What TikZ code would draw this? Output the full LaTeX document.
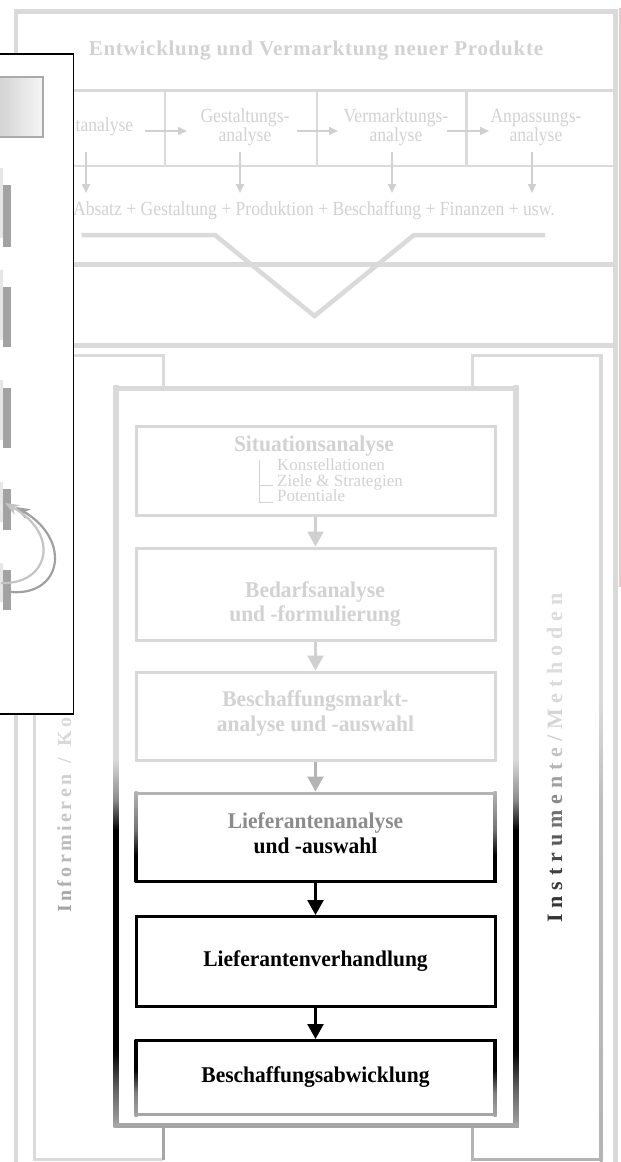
\documentclass[tikz,border=0pt]{standalone}
\usepackage{fontspec}
\setmainfont{Liberation Serif}
\newfontfamily\condfont[FakeStretch=0.88]{Liberation Serif}
\newfontfamily\boldcond[FakeStretch=0.955]{Liberation Serif}
\newfontfamily\titlefont[LetterSpace=3.5]{Liberation Serif}
\usetikzlibrary{arrows.meta}
\definecolor{frgray}{HTML}{DADADA}
\definecolor{txtgray}{HTML}{D2D2D2}
\definecolor{argray}{HTML}{D0D0D0}
\definecolor{boxgray}{HTML}{D8D8D8}
\definecolor{midgray}{HTML}{B4B4B4}
\definecolor{botgray}{HTML}{A6A6A6}
\definecolor{bargray}{HTML}{A2A2A2}
\definecolor{stripgray}{HTML}{E6E6E6}
\definecolor{pinkline}{HTML}{F2C6C6}
\definecolor{arcA}{HTML}{C4C4C4}
\definecolor{arcB}{HTML}{A0A0A0}
\definecolor{liefgray}{HTML}{8C8C8C}
\definecolor{boxedge}{HTML}{AAAAAA}
\definecolor{boxfillL}{HTML}{CCCCCC}
\definecolor{boxfillR}{HTML}{F6F6F6}
\newdimen\lsp
\newcommand{\rl}[2]{\textcolor[HTML]{#1}{#2}\kern\lsp}
\newcommand{\rlast}[2]{\textcolor[HTML]{#1}{#2}}
\pgfdeclareverticalshading{innerside}{100bp}{color(0bp)=(botgray); color(25bp)=(botgray); color(27.5bp)=(black!60); color(30.2bp)=(black); color(45.05bp)=(black); color(47.1bp)=(black!45); color(49.8bp)=(frgray); color(75bp)=(frgray); color(100bp)=(frgray)}
\pgfdeclareverticalshading{liefside}{100bp}{color(0bp)=(black); color(40bp)=(black); color(54bp)=(black!55); color(75bp)=(midgray); color(100bp)=(midgray)}
\pgfdeclareverticalshading{abwside}{100bp}{color(0bp)=(botgray); color(25bp)=(botgray); color(40bp)=(black!50); color(55bp)=(black); color(100bp)=(black)}
\pgfdeclareverticalshading{brkside}{100bp}{color(0bp)=(midgray); color(25bp)=(midgray); color(47.4bp)=(black!25); color(53.6bp)=(frgray); color(100bp)=(frgray)}
\begin{document}
\begin{tikzpicture}[x=1pt,y=-1pt,
  frame/.style={draw=frgray, line width=4.5pt},
  thinframe/.style={draw=frgray, line width=2.5pt},
  bracketline/.style={draw=frgray, line width=3pt},
  rowtxt/.style={inner sep=0pt, text=txtgray, font=\condfont\fontsize{20}{19}\selectfont},
  listtxt/.style={inner sep=0pt, text=txtgray, font=\fontsize{17}{16}\selectfont, anchor=base west},
  titletxt/.style={inner sep=0pt, text=txtgray, font=\titlefont\fontsize{21}{24}\selectfont\bfseries},
  boldtxt/.style={inner sep=0pt, font=\boldcond\fontsize{22.5}{25}\selectfont\bfseries, anchor=base},
  sidetxt/.style={rotate=90, anchor=base west, inner sep=0pt},
  procbox/.style={rectangle, inner sep=0pt, outer sep=0pt, minimum width=359pt, line width=3pt},
  smallarr/.style={draw=argray, line width=2pt, -{Triangle[length=9pt,width=8pt]}},
  bigarr/.style={line width=2.5pt, -{Triangle[length=15pt,width=16pt]}, shorten >=1.5pt, shorten <=1.5pt},
  arcarrA/.style={draw=arcA, line width=2.2pt, -{Stealth[length=14pt,width=11pt]}},
  arcarrB/.style={draw=arcB, line width=2.2pt, -{Stealth[length=14pt,width=11pt]}},
]
\path[use as bounding box] (0,0) rectangle (621,1162);
\clip (0,0) rectangle (621,1162);
\fill[white] (0,0) rectangle (621,1162);

% ---------- top frame ----------
\draw[frame] (16,1175) -- (16,11.5) -- (615.5,11.5) -- (615.5,1175);
\draw[pinkline, line width=1.2pt] (620,8) -- (620,587);
\draw[thinframe] (16,90.5) -- (615.5,90.5);
\draw[thinframe] (16,166) -- (615.5,166);
\foreach \xx in {165.2,316.9,466.6} \draw[thinframe] (\xx,90.5) -- (\xx,166);
\draw[frame] (16,264.5) -- (615.5,264.5);
\draw[frame, line join=miter] (81.6,235) -- (215,235) -- (314.5,316) -- (414,235) -- (545,235);

\node[titletxt, anchor=base] (title) at (316,55) {Entwicklung und Vermarktung neuer Produkte};
\node[rowtxt, anchor=base east] (t0) at (133.5,131.5) {tanalyse};
\node[rowtxt, anchor=base] (gest1) at (245,122.5) {Gestaltungs-};
\node[rowtxt, anchor=base] (gest2) at (245,141.5) {analyse};
\node[rowtxt, anchor=base] (verm1) at (396,122.5) {Vermarktungs-};
\node[rowtxt, anchor=base] (verm2) at (396,141.5) {analyse};
\node[rowtxt, anchor=base] (anp1) at (536,122.5) {Anpassungs-};
\node[rowtxt, anchor=base] (anp2) at (536,141.5) {analyse};
\node[rowtxt, anchor=base east] (sum) at (555,215) {Absatz + Gestaltung + Produktion + Beschaffung + Finanzen + usw.};

\foreach \n/\xa/\xb in {1/145/187, 2/297/338, 3/447/489}{
  \coordinate (ra\n s) at (\xa,131);
  \coordinate (ra\n e) at (\xb,131);
  \draw[smallarr] (ra\n s) -- (ra\n e);
}
\foreach \n/\xx in {1/86, 2/240, 3/392, 4/532}{
  \coordinate (da\n s) at (\xx,152);
  \coordinate (da\n e) at (\xx,193);
  \draw[smallarr] (da\n s) -- (da\n e);
}

% ---------- lower frame ----------
\draw[frame] (16,345.5) -- (615.5,345.5);
\draw[bracketline] (163.2,388) -- (163.2,355.5) -- (34,355.5) -- (34,1159.5) -- (163.2,1159.5);
\draw[bracketline, draw=botgray] (163.2,1159.5) -- (163.2,1125);
\draw[bracketline] (472.5,388) -- (472.5,355.5) -- (601,355.5);
\shade[shading=brkside] (599.5,354) rectangle (602.5,1161);
\draw[bracketline, draw=midgray] (601,1159.5) -- (472.5,1159.5) -- (472.5,1125);

% inner container
\fill[frgray] (113.5,385.5) rectangle (518.5,390.5);
\shade[shading=innerside] (113.5,385.5) rectangle (118.5,1127.5);
\shade[shading=innerside] (513.5,385.5) rectangle (518.5,1127.5);
\fill[botgray] (113.5,1122.5) rectangle (518.5,1127.5);

% process boxes
\node[procbox, draw=boxgray, minimum height=89pt] (b1) at (315.5,470.5) {};
\node[procbox, draw=boxgray, minimum height=92pt] (b2) at (315.5,594) {};
\node[procbox, draw=boxgray, minimum height=88pt] (b3) at (315.5,716) {};
\node[procbox, minimum height=88pt] (b4) at (315.5,837) {};
\node[procbox, draw=black, minimum height=89.5pt] (b5) at (315.5,961.25) {};
\node[procbox, minimum height=74pt] (b6) at (315.5,1077.5) {};

\draw[line width=3pt, midgray] (134.5,793) -- (496.5,793);
\draw[line width=3pt, black] (134.5,881) -- (496.5,881);
\shade[shading=liefside] (134.5,791.5) rectangle (137.5,882.5);
\shade[shading=liefside] (493.5,791.5) rectangle (496.5,882.5);

\draw[line width=3pt, black] (134.5,1040.5) -- (496.5,1040.5);
\draw[line width=3pt, botgray] (134.5,1114.5) -- (496.5,1114.5);
\shade[shading=abwside] (134.5,1039) rectangle (137.5,1116);
\shade[shading=abwside] (493.5,1039) rectangle (496.5,1116);

% texts
\node[boldtxt, text=txtgray] (sit) at (314,451) {Situationsanalyse};
\draw[txtgray, line width=1pt] (259,460) -- (259,502) -- (273,502);
\draw[txtgray, line width=1pt] (259,485) -- (273,485);
\node[listtxt] (l1) at (277,470) {Konstellationen};
\node[listtxt] (l2) at (277,486.5) {Ziele \& Strategien};
\node[listtxt] (l3) at (277,501.5) {Potentiale};
\node[boldtxt, text=txtgray] (bed1) at (315,597.5) {Bedarfsanalyse};
\node[boldtxt, text=txtgray] (bed2) at (315,621.5) {und -formulierung};
\node[boldtxt, text=txtgray] (bm1) at (315.5,706.5) {Beschaffungsmarkt-};
\node[boldtxt, text=txtgray] (bm2) at (315.5,731.5) {analyse und -auswahl};
\node[boldtxt, text=liefgray] (la1) at (315.5,828) {Lieferantenanalyse};
\node[boldtxt, text=black] (la2) at (315.5,853) {und -auswahl};
\node[boldtxt, text=black] (lv) at (315.5,966) {Lieferantenverhandlung};
\node[boldtxt, text=black] (ba) at (315.5,1082.5) {Beschaffungsabwicklung};

% arrows between boxes
\draw[bigarr, draw=argray] (b1.south) -- (b2.north);
\draw[bigarr, draw=argray] (b2.south) -- (b3.north);
\draw[bigarr, draw=midgray] (b3.south) -- (b4.north);
\draw[bigarr, draw=black] (b4.south) -- (b5.north);
\draw[bigarr, draw=black] (b5.south) -- (b6.north);

% rotated side labels
\node[sidetxt, font=\fontsize{20}{24}\selectfont\bfseries] (info) at (71,913)
  {\lsp=3.4pt\rl{A4A4A4}{I}\rl{A8A8A8}{n}\rl{B0B0B0}{f}\rl{B4B4B4}{o}\rl{B8B8B8}{r}\rl{BCBCBC}{m}\rl{C0C0C0}{i}\rl{C4C4C4}{e}\rl{C8C8C8}{r}\rl{CCCCCC}{e}\rlast{D0D0D0}{n}\kern11pt\rlast{D6D6D6}{/}\kern11pt\rl{D8D8D8}{K}\rlast{DADADA}{o}};
\node[sidetxt, font=\fontsize{22}{26}\selectfont\bfseries] (instr) at (562,923)
  {\lsp=5.9pt\rl{363636}{I}\rl{363636}{n}\rl{3A3A3A}{s}\rl{404040}{t}\rl{4A4A4A}{r}\rl{5A5A5A}{u}\rl{707070}{m}\rl{8A8A8A}{e}\rl{A0A0A0}{n}\rl{B4B4B4}{t}\rl{C4C4C4}{e}\rl{D0D0D0}{/}\rl{D6D6D6}{M}\rl{DADADA}{e}\rl{DADADA}{t}\rl{DCDCDC}{h}\rl{DCDCDC}{o}\rl{DCDCDC}{d}\rl{DCDCDC}{e}\rlast{DCDCDC}{n}};

% ---------- overlay panel ----------
\node[rectangle, draw=black, fill=white, line width=1.2pt, inner sep=0pt, outer sep=0pt,
      minimum width=78.5pt, minimum height=660pt] (ov) at (34.25,384) {};
\node[rectangle, draw=boxedge, line width=2.5pt, left color=boxfillL, right color=boxfillR,
      inner sep=0pt, minimum width=53pt, minimum height=60pt] (gbox) at (16.5,107) {};
\foreach \a/\b/\c/\d in {168/238/185/247, 270/340/287/347, 380/440/388/448, 482/522/489/530, 563/602/570/610}{
  \fill[stripgray] (0,\a) rectangle (3,\b);
  \fill[bargray] (3,\c) rectangle (11,\d);
}
\coordinate (arcBs) at (11,592);
\coordinate (arcBe) at (16,507);
\draw[arcarrB] (arcBs) .. controls (62,596) and (72,540) .. (arcBe);
\coordinate (arcAs) at (1,583);
\coordinate (arcAe) at (5,503);
\draw[arcarrA] (arcAs) .. controls (48,585) and (62,535) .. (arcAe);
\end{tikzpicture}
\end{document}
